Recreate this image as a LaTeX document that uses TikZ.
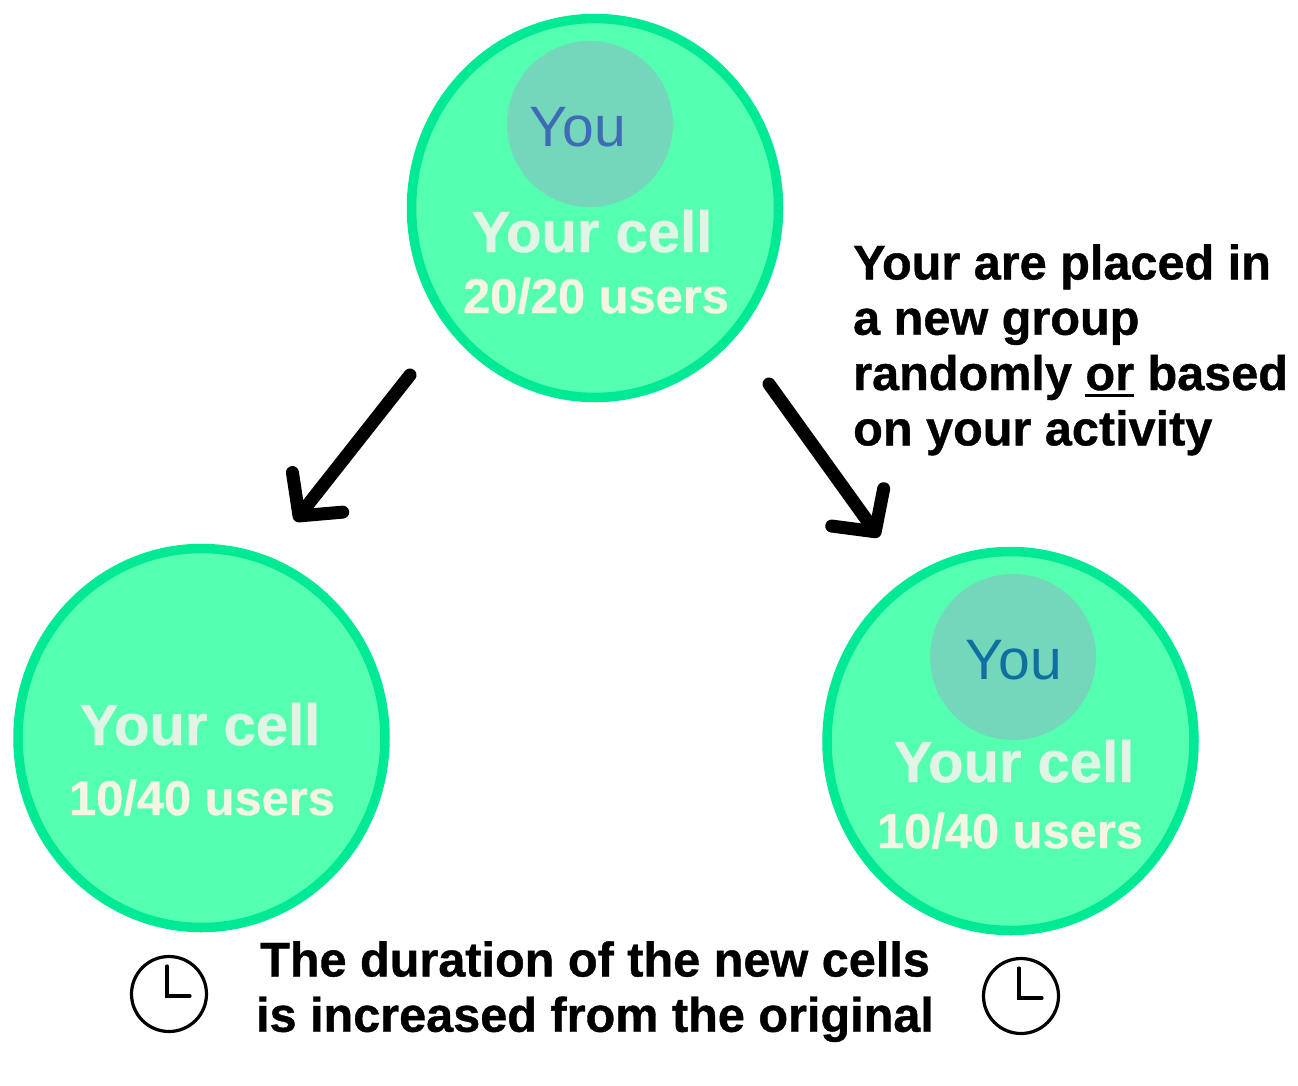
\documentclass[tikz,border=0pt]{standalone}
\usepackage{fontspec}
\setmainfont{Liberation Sans}
\usetikzlibrary{shapes.geometric,arrows.meta}
\definecolor{cellfill}{HTML}{55FFB0}
\definecolor{cellline}{HTML}{00E994}
\definecolor{youfill}{HTML}{74D6BB}
\definecolor{youblue}{HTML}{3F6BB5}
\definecolor{youteal}{HTML}{0F6FA0}
\definecolor{celltext}{HTML}{E0F5E6}
\definecolor{usertext}{HTML}{F5F5E5}
\newfontfamily\boldround[FakeBold=0.8]{Liberation Sans Bold}
\newcommand{\orline}[1]{\setbox0\hbox{#1}\rlap{\rule[-7pt]{\wd0}{3.2pt}}\box0\relax}
\tikzset{
  cell/.style={ellipse,draw=cellline,fill=cellfill,line width=9.5pt,minimum width=367pt,minimum height=379pt,inner sep=0pt},
  youdisc/.style={circle,fill=youfill,minimum size=166pt,inner sep=0pt},
  youlabel/.style={anchor=base,inner sep=0pt,font=\fontsize{57}{60}\selectfont},
  celllabel/.style={anchor=base,inner sep=0pt,text=celltext,font=\boldround\fontsize{58}{60}\selectfont},
  userlabel/.style={anchor=base,inner sep=0pt,text=usertext,font=\boldround\fontsize{48.8}{55}\selectfont},
  note/.style={inner sep=0pt,align=left,font=\boldround\fontsize{48.6}{55.3}\selectfont},
  flow/.style={line width=13pt,line cap=round,line join=round,-{Straight Barb[round,length=30pt,width=64pt,line width=13pt]}},
  clockface/.style={circle,draw=black,line width=3.2pt,minimum size=75pt,inner sep=0pt},
  clockhand/.style={line width=3.2pt,line cap=round,line join=miter}
}
\begin{document}
\begin{tikzpicture}[x=1pt,y=-1pt]
\useasboundingbox (0,0) rectangle (1298,1085);
\node[cell] (top) at (595,208) {};
\node[cell] (left) at (201.5,738) {};
\node[cell] (right) at (1010.5,741) {};
\node[youdisc] (youA) at (590,124) {};
\node[youdisc] (youB) at (1013,657) {};
\node[youlabel,text=youblue] (youAtext) at (578,146) {You};
\node[youlabel,text=youteal] (youBtext) at (1014,679) {You};
\node[celllabel] (cellA) at (592,252) {Your cell};
\node[userlabel] (userA) at (596,313) {20/20 users};
\node[celllabel] (cellB) at (200,745) {Your cell};
\node[userlabel] (userB) at (202,815) {10/40 users};
\node[celllabel] (cellC) at (1014,782) {Your cell};
\node[userlabel] (userC) at (1010,848) {10/40 users};
\coordinate (a1) at (410,375);
\coordinate (t1) at (295,521);
\coordinate (a2) at (769,384);
\coordinate (t2) at (879,537);
\draw[flow] (a1) -- (t1);
\draw[flow] (a2) -- (t2);
\node[note,anchor=north west] (place) at (853,244) {Your are placed in\\a new group\\randomly \orline{or} based\\on your activity};
\node[note,align=center,anchor=north] (dur) at (595,941) {The duration of the new cells\\is increased from the original};
\node[clockface] (clockL) at (169,994) {};
\node[clockface] (clockR) at (1021,996) {};
\coordinate (hL1) at ([shift={(-2,-28)}]clockL.center);
\coordinate (hL2) at ([shift={(-2,2)}]clockL.center);
\coordinate (hL3) at ([shift={(21,2)}]clockL.center);
\coordinate (hR1) at ([shift={(-2,-28)}]clockR.center);
\coordinate (hR2) at ([shift={(-2,2)}]clockR.center);
\coordinate (hR3) at ([shift={(21,2)}]clockR.center);
\draw[clockhand] (hL1) -- (hL2) -- (hL3);
\draw[clockhand] (hR1) -- (hR2) -- (hR3);
\end{tikzpicture}
\end{document}
